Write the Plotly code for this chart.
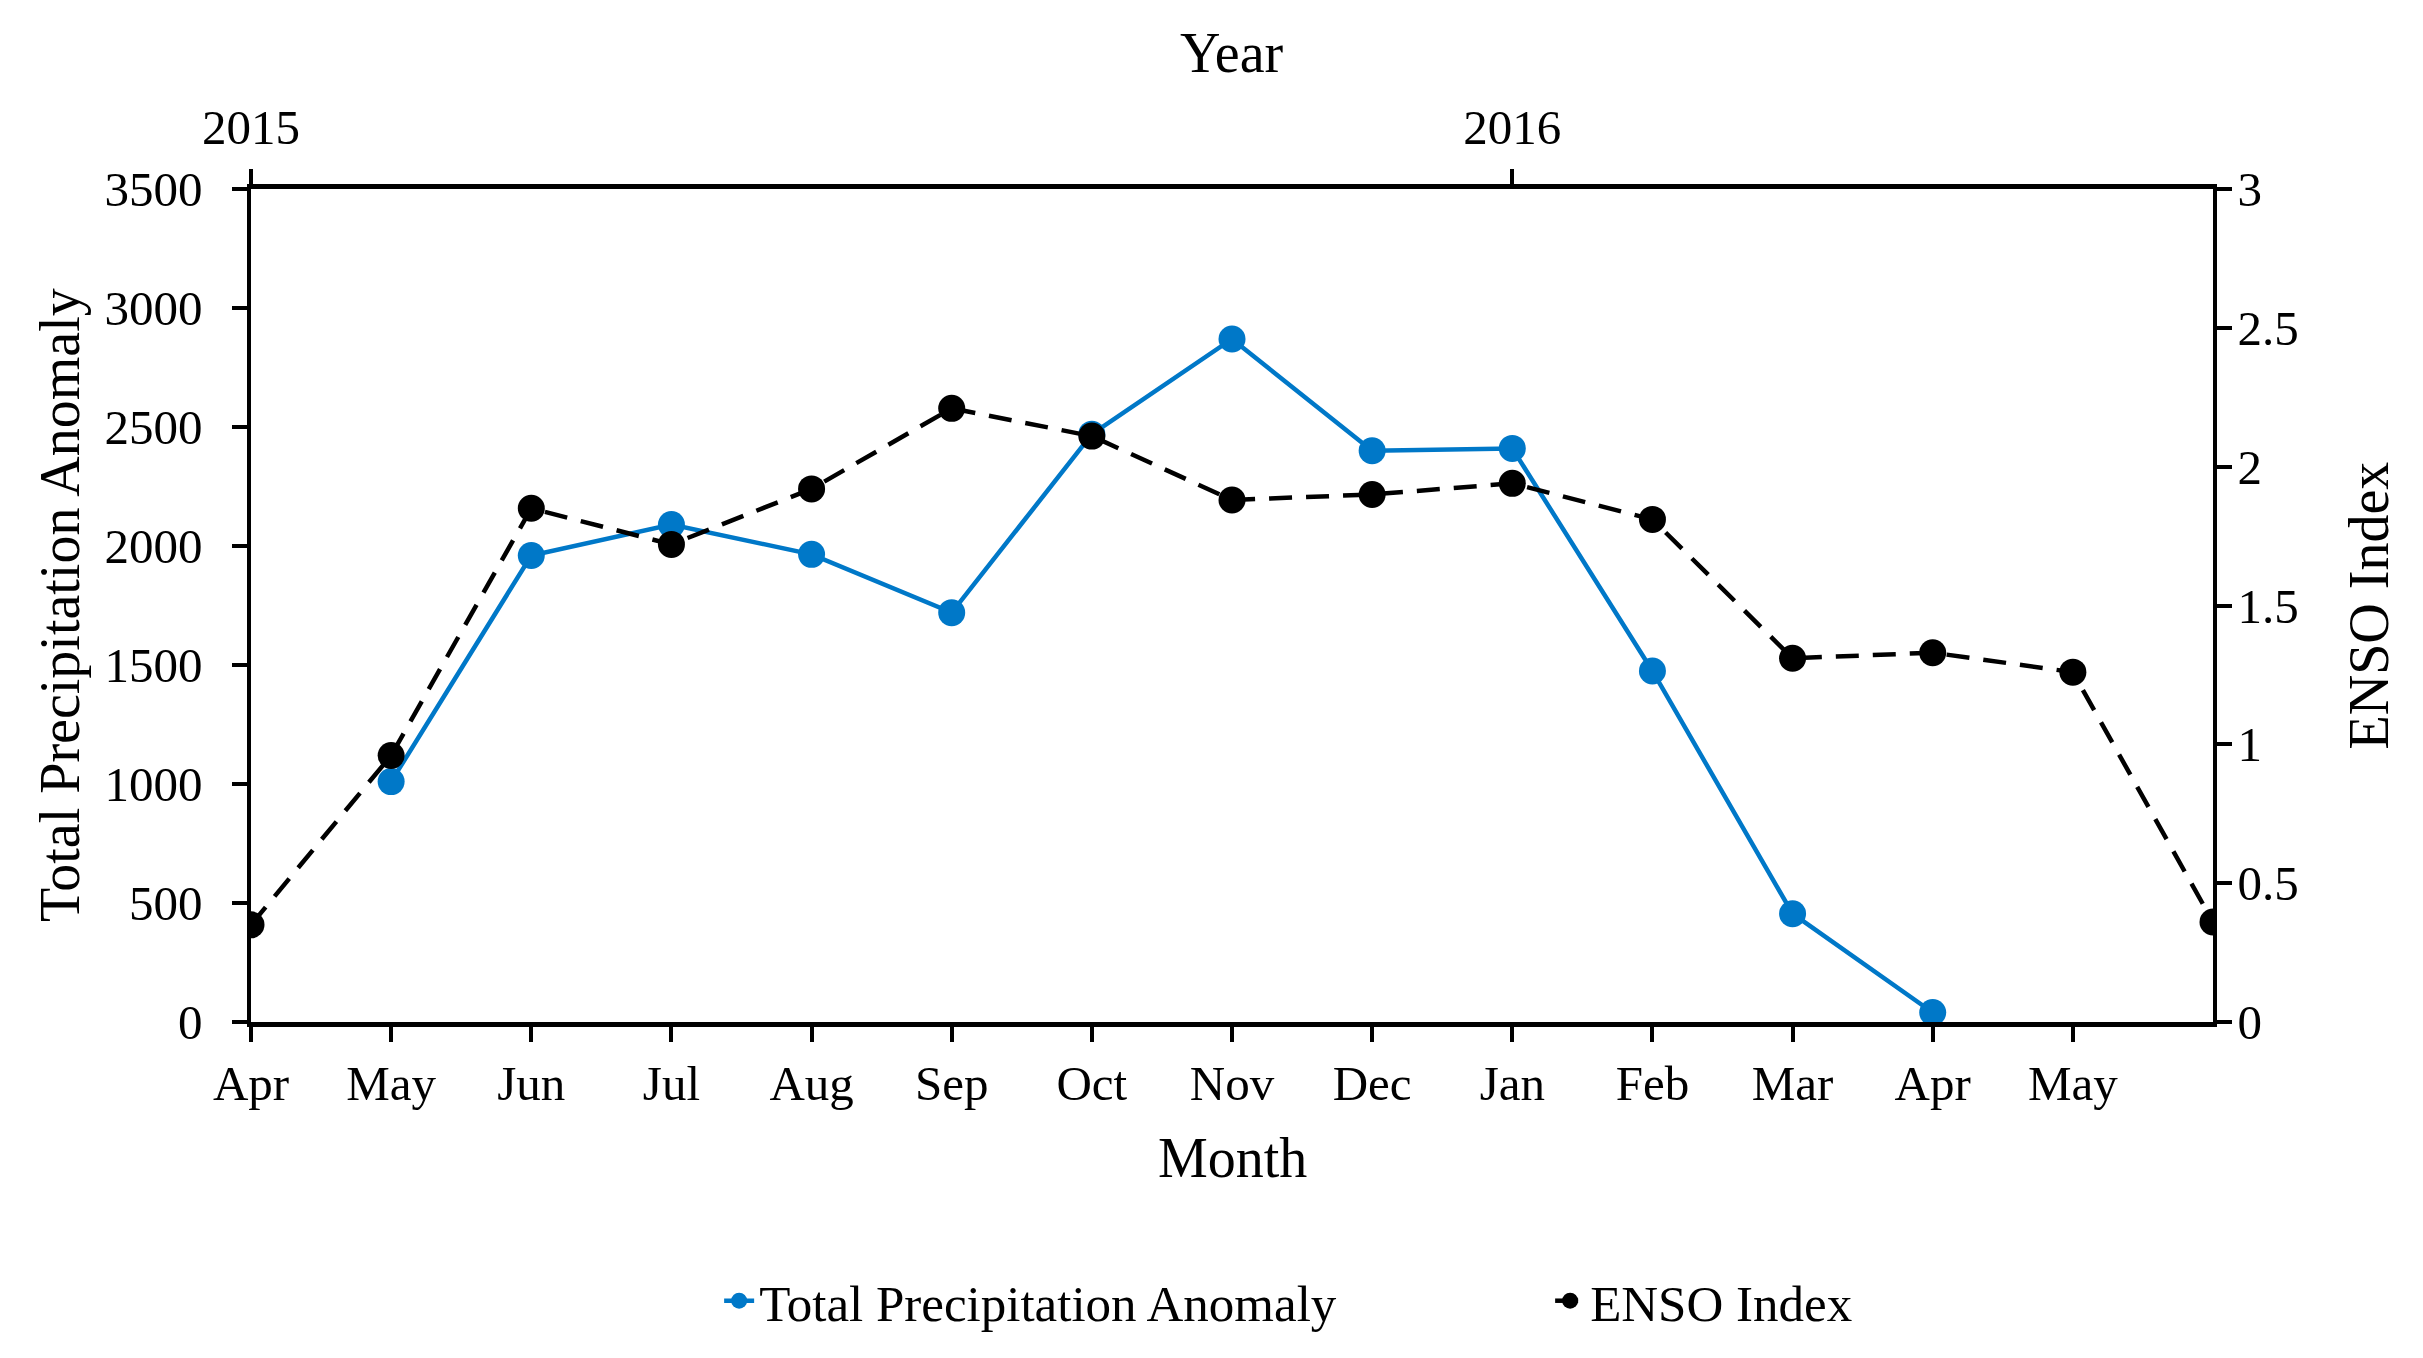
import plotly.graph_objects as go

months = ["Apr", "May", "Jun", "Jul", "Aug", "Sep", "Oct", "Nov", "Dec",
          "Jan", "Feb", "Mar", "Apr", "May"]
x_pos = list(range(15))  # 15 monthly positions, last one at right edge
precip_x = list(range(1, 13))
precip = [1010, 1960, 2090, 1965, 1720, 2470, 2870, 2400, 2410, 1475, 455, 40]
enso = [0.35, 0.96, 1.85, 1.72, 1.92, 2.21, 2.11, 1.88, 1.90, 1.94, 1.81,
        1.31, 1.33, 1.26, 0.36]
year_ticks = [0, 9]
year_labels = ["2015", "2016"]

FONT = "Liberation Serif"
BLUE = "#0078C8"

fig = go.Figure()
fig.add_trace(go.Scatter(
    x=precip_x, y=precip, mode="lines+markers", name="Total Precipitation Anomaly",
    line=dict(color=BLUE, width=4.5), marker=dict(color=BLUE, size=27),
    xaxis="x", yaxis="y"))
fig.add_trace(go.Scatter(
    x=x_pos, y=enso, mode="lines+markers", name="ENSO Index",
    line=dict(color="black", width=4.5, dash="23px,14px"),
    marker=dict(color="black", size=27),
    xaxis="x", yaxis="y2"))
# invisible trace to activate top axis
fig.add_trace(go.Scatter(x=[0, 14], y=[None, None], xaxis="x2", yaxis="y",
                         showlegend=False, hoverinfo="skip"))

tickfont = dict(family=FONT, size=49, color="black")
fig.update_layout(
    width=2423, height=1358,
    margin=dict(l=243, r=218, t=181, b=344),
    paper_bgcolor="white", plot_bgcolor="white",
    font=dict(family=FONT, color="black"),
    xaxis=dict(range=[0, 14], tickvals=list(range(14)), ticktext=months,
               showgrid=False, zeroline=False, showline=True, linecolor="black",
               linewidth=5, ticks="outside", ticklen=15, tickwidth=3.5,
               tickcolor="black", tickfont=tickfont, ticklabelstandoff=-1),
    xaxis2=dict(range=[0, 14], overlaying="x", side="top", tickvals=year_ticks,
                ticktext=year_labels, showgrid=False, zeroline=False,
                showline=True, linecolor="black", linewidth=5, ticks="outside",
                ticklen=15, tickwidth=3.5, tickcolor="black", tickfont=tickfont,
                ticklabelstandoff=5),
    yaxis=dict(range=[0, 3500], dtick=500, showgrid=False, zeroline=False,
               showline=True, linecolor="black", linewidth=3.5, ticks="outside",
               ticklen=15, tickwidth=3.5, tickcolor="black", tickfont=tickfont,
               ticklabelstandoff=20),
    yaxis2=dict(range=[0, 3], dtick=0.5, overlaying="y", side="right",
                showgrid=False, zeroline=False, showline=True, linecolor="black",
                linewidth=3.5, ticks="outside", ticklen=15, tickwidth=3.5,
                tickcolor="black", tickfont=tickfont, ticklabelstandoff=-4),
    legend=dict(orientation="h", x=0.2386, xanchor="left", y=-0.335,
                yanchor="middle", font=dict(family=FONT, size=51, color="black"),
                entrywidth=786, entrywidthmode="pixels"),
    showlegend=True,
)

title_font = dict(family=FONT, size=56, color="black")
fig.add_annotation(text="Month", xref="paper", yref="paper", x=0.5, y=-0.163,
                   showarrow=False, font=title_font, xanchor="center", yanchor="middle")
fig.add_annotation(text="Year", xref="paper", yref="paper", x=0.5, y=1.163,
                   showarrow=False, font=title_font, xanchor="center", yanchor="middle")
fig.add_annotation(text="Total Precipitation Anomaly", xref="paper", yref="paper",
                   x=-0.0976, y=0.5, textangle=-90, showarrow=False, font=title_font,
                   xanchor="center", yanchor="middle")
fig.add_annotation(text="ENSO Index", xref="paper", yref="paper",
                   x=1.0795, y=0.5, textangle=-90, showarrow=False, font=title_font,
                   xanchor="center", yanchor="middle")

fig.write_html("out.html")
